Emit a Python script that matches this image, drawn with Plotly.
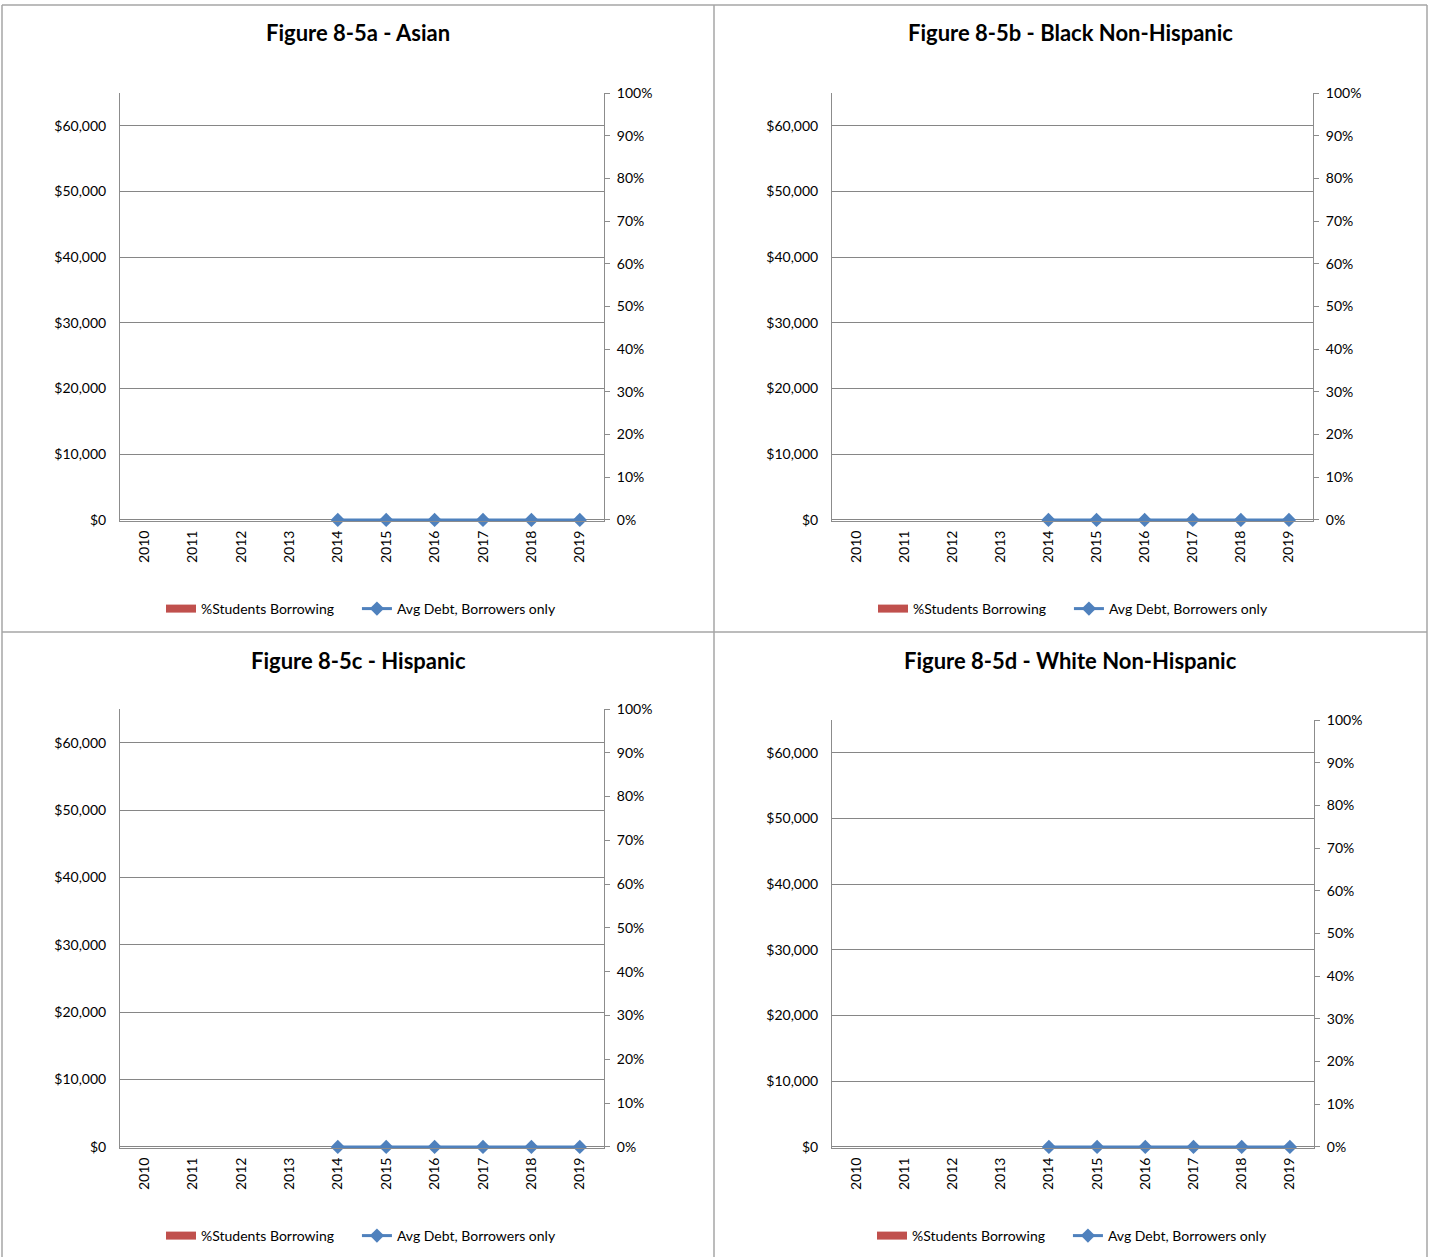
import plotly.graph_objects as go

W, H = 1430, 1257          # reference picture size (geometry below is in these pixels)
FIG_H = 1273               # rendered figure height (compensates the capture's vertical scaling)

years = ["2010", "2011", "2012", "2013", "2014", "2015", "2016", "2017", "2018", "2019"]
panel_titles = [
    "Figure 8-5a - Asian",
    "Figure 8-5b - Black Non-Hispanic",
    "Figure 8-5c - Hispanic",
    "Figure 8-5d - White Non-Hispanic",
]
pct_borrowing = {
    "a": [None, None, None, None, 0, 0, 0, 0, 0, 0],
    "b": [None, None, None, None, 0, 0, 0, 0, 0, 0],
    "c": [None, None, None, None, 0, 0, 0, 0, 0, 0],
    "d": [None, None, None, None, 0, 0, 0, 0, 0, 0],
}
avg_debt = {
    "a": [None, None, None, None, 0, 0, 0, 0, 0, 0],
    "b": [None, None, None, None, 0, 0, 0, 0, 0, 0],
    "c": [None, None, None, None, 0, 0, 0, 0, 0, 0],
    "d": [None, None, None, None, 0, 0, 0, 0, 0, 0],
}
debt_ticks = [0, 10000, 20000, 30000, 40000, 50000, 60000]
debt_ticktext = ["$0", "$10,000", "$20,000", "$30,000", "$40,000", "$50,000", "$60,000"]
pct_ticks = [0, 0.1, 0.2, 0.3, 0.4, 0.5, 0.6, 0.7, 0.8, 0.9, 1.0]
pct_ticktext = ["0%", "10%", "20%", "30%", "40%", "50%", "60%", "70%", "80%", "90%", "100%"]

# layout geometry in pixels: plot x0, x1, ytop, ybottom, legend y, title center x, title y, legend center x
geom = [
    (120, 604, 92, 520, 608, 358, 32, 361),
    (832, 1313, 92, 520, 608, 1070, 32, 1073),
    (120, 604, 708, 1147, 1235, 358, 659, 361),
    (832, 1314, 719, 1147, 1235, 1070, 659, 1072),
]

DEBT_MIN, DEBT_MAX = -160, 65000
PCT_MIN = DEBT_MIN / DEBT_MAX

FONT = "Lato, 'Open Sans', Arial, sans-serif"
RED = "#C0504D"
BLUE = "#4F81BD"
GRID = "#868686"
AX = "#8c8c8c"
NBSP = "\u00a0"

fig = go.Figure()
layout = dict(
    width=W, height=FIG_H,
    margin=dict(l=0, r=0, t=0, b=0),
    paper_bgcolor="white", plot_bgcolor="white",
    font=dict(family=FONT, size=14, color="#000000"),
    annotations=[], shapes=[],
)

def px_x(p):
    return p / W

def px_y(p):
    return 1 - p / H

for i, key in enumerate(["a", "b", "c", "d"]):
    x0, x1, yt, yb, ly, tcx, tcy, lcx = geom[i]
    xa = "x" if i == 0 else f"x{i+1}"
    ya = f"y{2*i+1}" if i > 0 else "y"
    ya2 = f"y{2*i+2}"
    leg = "legend" if i == 0 else f"legend{i+1}"

    fig.add_trace(go.Bar(
        x=years, y=pct_borrowing[key], name="%Students Borrowing",
        marker=dict(color=RED, line=dict(width=0)),
        xaxis=xa, yaxis=ya2, showlegend=False,
    ))
    # legend key drawn as a wide red rectangle like the original
    fig.add_trace(go.Scatter(
        x=[None], y=[None], name="%Students Borrowing" + NBSP * 5,
        mode="lines", line=dict(color=RED, width=8),
        xaxis=xa, yaxis=ya2, legend=leg, hoverinfo="skip",
    ))
    fig.add_trace(go.Scatter(
        x=years, y=avg_debt[key], name="Avg Debt, Borrowers only",
        mode="lines+markers",
        line=dict(color=BLUE, width=3),
        marker=dict(symbol="diamond", size=11, color=BLUE),
        cliponaxis=False,
        xaxis=xa, yaxis=ya, legend=leg,
    ))

    xkey = "xaxis" if i == 0 else f"xaxis{i+1}"
    ykey = "yaxis" if i == 0 else f"yaxis{2*i+1}"
    y2key = f"yaxis{2*i+2}"
    dom_x = [px_x(x0), px_x(x1)]
    dom_y = [px_y(yb), px_y(yt)]
    layout[xkey] = dict(
        domain=dom_x, anchor=ya, type="category", categoryorder="array",
        categoryarray=years, range=[-0.5, 9.5],
        tickangle=-90, showline=True, linecolor=AX, linewidth=1,
        showgrid=False, ticks="", ticklabelstandoff=3,
        tickfont=dict(size=14, family=FONT),
        fixedrange=True,
    )
    layout[ykey] = dict(
        domain=dom_y, anchor=xa, range=[DEBT_MIN, DEBT_MAX],
        tickvals=debt_ticks, ticktext=debt_ticktext,
        showline=True, linecolor=AX, linewidth=1,
        showgrid=True, gridcolor=GRID, gridwidth=1,
        zeroline=False, ticks="", ticklabelstandoff=10,
        tickfont=dict(size=14, family=FONT),
    )
    layout[y2key] = dict(
        domain=dom_y, anchor=xa, overlaying=ya, side="right",
        range=[PCT_MIN, 1], tickvals=pct_ticks, ticktext=pct_ticktext,
        showline=True, linecolor=AX, linewidth=1,
        showgrid=False, zeroline=False,
        ticks="outside", ticklen=5, tickcolor=AX,
        ticklabelstandoff=4,
        tickfont=dict(size=14, family=FONT),
    )
    layout[leg] = dict(
        orientation="h", x=px_x(lcx), xanchor="center",
        y=px_y(ly), yanchor="middle",
        font=dict(size=14, family=FONT),
        bgcolor="rgba(0,0,0,0)",
        traceorder="normal",
    )
    layout["annotations"].append(dict(
        text=f"<b>{panel_titles[i]}</b>", x=px_x(tcx), y=px_y(tcy),
        xref="paper", yref="paper", xanchor="center", yanchor="middle",
        showarrow=False, font=dict(size=22, family=FONT, color="#000000"),
    ))

BORDER = "#a6a6a6"
for (xa0, ya0, xa1, ya1) in [
    (2, 4, 1427, 4),
    (2, 4, 2, 1257),
    (1427, 4, 1427, 1257),
    (714, 4, 714, 1257),
    (2, 631, 1427, 631),
]:
    layout["shapes"].append(dict(
        type="line", xref="paper", yref="paper",
        x0=px_x(xa0), y0=px_y(ya0), x1=px_x(xa1), y1=px_y(ya1),
        line=dict(color=BORDER, width=1.5),
    ))

fig.update_layout(**layout)
fig.write_html(
    "out.html",
    config={"displayModeBar": False},
    post_script=(
        "var s=document.createElement('style');"
        "s.textContent='html,body{margin:0!important;padding:0!important;overflow:hidden;}';"
        "document.head.appendChild(s);"
        "var g=document.querySelector('.plotly-graph-div');"
        "if(g){g.style.position='fixed';g.style.top='-8px';g.style.left='0px';g.style.margin='0';}"
        "window.scrollTo(0,0);"
    ),
)
